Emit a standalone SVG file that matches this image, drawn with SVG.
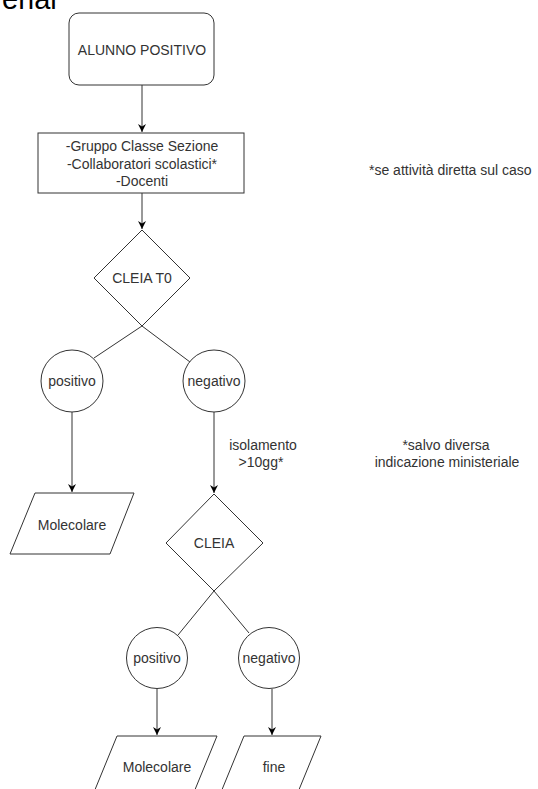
<svg xmlns="http://www.w3.org/2000/svg" width="538" height="789" viewBox="0 0 538 789">
<style>
.s{fill:#fff;stroke:#333;stroke-width:1}
.t{font-family:"Liberation Sans",Arial,sans-serif;font-size:14px;fill:#333;text-anchor:middle;dominant-baseline:central}
.c{fill:none;stroke:#333;stroke-width:1}
</style>
<defs>
<marker id="a" viewBox="0 0 10 10" refX="10" refY="5" markerWidth="8" markerHeight="8" markerUnits="userSpaceOnUse" orient="auto">
<path d="M0,0 L10,5 L0,10 L3,5 z" fill="#000"/>
</marker>
</defs>
<rect width="538" height="789" fill="#fff"/>
<text x="2" y="9" font-family="Liberation Sans,Arial,sans-serif" font-size="29" fill="#000">erial</text>
<g id="connectors">
<path class="c" d="M142,85 V132" marker-end="url(#a)"/>
<path class="c" d="M142,193 V229" marker-end="url(#a)"/>
<path class="c" d="M142,326 L94,358"/>
<path class="c" d="M142,326 L190,362"/>
<path class="c" d="M72,412 V492" marker-end="url(#a)"/>
<path class="c" d="M214,412 V493" marker-end="url(#a)"/>
<path class="c" d="M214,591 L178,635"/>
<path class="c" d="M214,591 L249,633"/>
<path class="c" d="M157,689 V735" marker-end="url(#a)"/>
<path class="c" d="M272,689 V735" marker-end="url(#a)"/>
</g>
<g id="alunno">
<rect class="s" x="69" y="13" width="145" height="72" rx="10"/>
<text class="t" x="142" y="50">ALUNNO POSITIVO</text>
</g>
<g id="gruppo">
<rect class="s" x="38" y="133" width="206" height="60"/>
<text class="t" x="142" y="146">-Gruppo Classe Sezione</text>
<text class="t" x="142" y="164">-Collaboratori scolastici*</text>
<text class="t" x="142" y="181">-Docenti</text>
</g>
<g id="nota1">
<text class="t" x="369" y="170" style="text-anchor:start">*se attività diretta sul caso</text>
</g>
<g id="cleiat0">
<path class="s" d="M142,230 L190,278 L142,326 L94,278 z"/>
<text class="t" x="142" y="278">CLEIA T0</text>
</g>
<g id="positivo1">
<circle class="s" cx="72" cy="381" r="31"/>
<text class="t" x="72" y="381">positivo</text>
</g>
<g id="negativo1">
<circle class="s" cx="214" cy="381" r="31"/>
<text class="t" x="214" y="381">negativo</text>
</g>
<g id="molecolare1">
<path class="s" d="M35,493 L134,493 L110,554 L10,554 z"/>
<text class="t" x="72" y="525">Molecolare</text>
</g>
<g id="isolamento">
<text class="t" x="263" y="445">isolamento</text>
<text class="t" x="261" y="462">&gt;10gg*</text>
</g>
<g id="nota2">
<text class="t" x="446" y="445">*salvo diversa</text>
<text class="t" x="447" y="462">indicazione ministeriale</text>
</g>
<g id="cleia">
<path class="s" d="M214,494 L263,543 L214,591 L166,543 z"/>
<text class="t" x="214" y="543">CLEIA</text>
</g>
<g id="positivo2">
<circle class="s" cx="157" cy="658" r="30.5"/>
<text class="t" x="157" y="658">positivo</text>
</g>
<g id="negativo2">
<circle class="s" cx="269" cy="658" r="30.5"/>
<text class="t" x="269" y="658">negativo</text>
</g>
<g id="molecolare2">
<path class="s" d="M117,736 L217,736 L192,797 L92,797 z"/>
<text class="t" x="157" y="767">Molecolare</text>
</g>
<g id="fine">
<path class="s" d="M244,736 L321,736 L296,797 L219,797 z"/>
<text class="t" x="274" y="767">fine</text>
</g>
</svg>
